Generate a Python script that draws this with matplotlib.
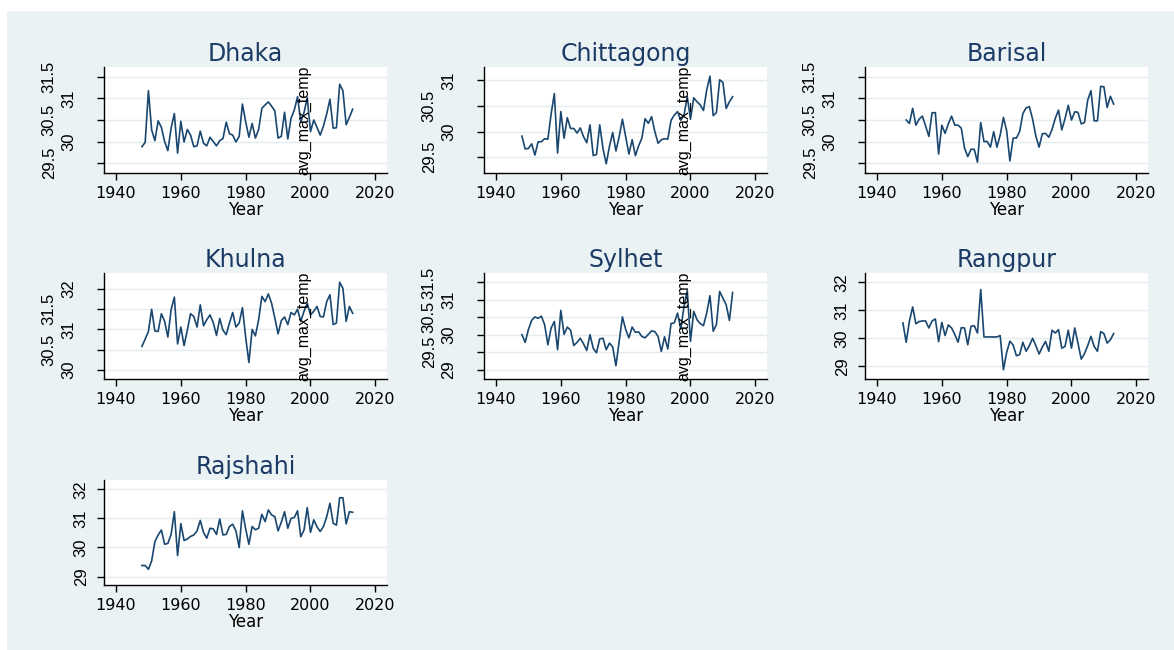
import matplotlib
matplotlib.use("Agg")
import matplotlib.pyplot as plt
import matplotlib.transforms as mtransforms
from matplotlib.patches import Rectangle

# average maximum temperature by station
years = list(range(1948, 2014))
years_barisal = list(range(1949, 2014))

dhaka = [
    29.88, 29.98, 31.18, 30.27, 30.02, 30.48, 30.33, 30.00, 29.79, 30.31,
    30.65, 29.73, 30.47, 29.99, 30.28, 30.15, 29.88, 29.90, 30.24, 29.96,
    29.90, 30.10, 30.00, 29.90, 30.02, 30.07, 30.45, 30.18, 30.15, 29.99,
    30.12, 30.87, 30.46, 30.10, 30.42, 30.08, 30.28, 30.77, 30.85, 30.92,
    30.82, 30.71, 30.08, 30.12, 30.68, 30.06, 30.54, 30.73, 31.04, 30.46,
    30.67, 31.02, 30.23, 30.50, 30.33, 30.15, 30.36, 30.64, 30.98, 30.31,
    30.32, 31.33, 31.18, 30.39, 30.56, 30.75,
]
chittagong = [
    29.91, 29.66, 29.67, 29.76, 29.54, 29.80, 29.80, 29.86, 29.85, 30.34,
    30.74, 29.58, 30.39, 29.87, 30.27, 30.06, 30.06, 29.97, 30.07, 29.90,
    29.78, 30.13, 29.53, 29.55, 30.13, 29.67, 29.37, 29.71, 29.98, 29.62,
    29.90, 30.24, 29.90, 29.56, 29.84, 29.53, 29.72, 29.87, 30.25, 30.16,
    30.29, 30.00, 29.77, 29.84, 29.86, 29.85, 30.22, 30.32, 30.39, 30.22,
    30.32, 30.68, 30.24, 30.66, 30.58, 30.52, 30.41, 30.81, 31.08, 30.31,
    30.37, 31.01, 30.96, 30.45, 30.58, 30.68,
]
barisal = [
    30.50, 30.42, 30.77, 30.38, 30.52, 30.59, 30.36, 30.12, 30.67, 30.67,
    29.71, 30.38, 30.19, 30.41, 30.59, 30.38, 30.38, 30.31, 29.85, 29.65,
    29.82, 29.82, 29.52, 30.44, 30.00, 30.00, 29.87, 30.23, 29.87, 30.15,
    30.56, 30.25, 29.55, 30.08, 30.08, 30.23, 30.65, 30.78, 30.81, 30.52,
    30.13, 29.87, 30.18, 30.19, 30.10, 30.28, 30.54, 30.73, 30.27, 30.53,
    30.84, 30.50, 30.69, 30.68, 30.41, 30.44, 30.96, 31.18, 30.48, 30.48,
    31.28, 31.27, 30.79, 31.05, 30.87,
]
khulna = [
    30.58, 30.76, 30.95, 31.50, 30.96, 30.95, 31.39, 31.20, 30.81, 31.49,
    31.80, 30.64, 31.06, 30.60, 30.98, 31.39, 31.32, 31.06, 31.61, 31.09,
    31.24, 31.36, 31.17, 30.85, 31.27, 30.98, 30.87, 31.16, 31.42, 31.06,
    31.16, 31.54, 30.81, 30.18, 31.00, 30.84, 31.24, 31.82, 31.69, 31.88,
    31.65, 31.28, 30.89, 31.22, 31.31, 31.12, 31.42, 31.36, 31.50, 31.20,
    31.45, 31.65, 31.36, 31.45, 31.57, 31.32, 31.31, 31.69, 31.86, 31.12,
    31.16, 32.17, 32.02, 31.20, 31.57, 31.40,
]
sylhet = [
    30.00, 29.78, 30.15, 30.41, 30.51, 30.47, 30.53, 30.29, 29.71, 30.19,
    30.38, 29.57, 30.70, 30.01, 30.22, 30.13, 29.69, 29.78, 29.90, 29.74,
    29.55, 30.00, 29.61, 29.48, 29.88, 29.90, 29.57, 29.76, 29.65, 29.11,
    29.81, 30.51, 30.15, 29.91, 30.22, 30.07, 30.08, 29.95, 29.91, 30.01,
    30.11, 30.09, 29.95, 29.52, 29.94, 29.59, 30.32, 30.34, 30.62, 30.16,
    30.81, 31.27, 29.81, 30.67, 30.43, 30.32, 30.26, 30.62, 31.12, 30.10,
    30.29, 31.24, 31.05, 30.86, 30.41, 31.21,
]
rangpur = [
    30.55, 29.86, 30.61, 31.12, 30.52, 30.60, 30.62, 30.62, 30.37, 30.62,
    30.69, 29.88, 30.57, 30.10, 30.48, 30.37, 30.14, 29.86, 30.38, 30.37,
    29.77, 30.43, 30.45, 30.19, 31.74, 30.05, 30.05, 30.05, 30.05, 30.05,
    30.10, 28.88, 29.50, 29.90, 29.76, 29.38, 29.42, 29.86, 29.54, 29.74,
    30.00, 29.74, 29.44, 29.69, 29.89, 29.54, 30.29, 30.19, 30.31, 29.65,
    29.71, 30.29, 29.65, 30.37, 29.83, 29.26, 29.45, 29.74, 30.07, 29.71,
    29.54, 30.24, 30.17, 29.83, 29.95, 30.17,
]
rajshahi = [
    29.38, 29.38, 29.25, 29.54, 30.20, 30.43, 30.60, 30.11, 30.14, 30.45,
    31.23, 29.72, 30.82, 30.24, 30.29, 30.38, 30.43, 30.57, 30.93, 30.52,
    30.32, 30.66, 30.64, 30.45, 30.98, 30.43, 30.45, 30.72, 30.80, 30.57,
    30.00, 31.26, 30.64, 30.11, 30.72, 30.61, 30.66, 31.14, 30.89, 31.29,
    31.12, 31.06, 30.57, 30.87, 31.23, 30.66, 31.00, 31.03, 31.26, 30.37,
    30.60, 31.37, 30.52, 30.95, 30.71, 30.55, 30.72, 31.06, 31.52, 30.83,
    30.77, 31.71, 31.71, 30.81, 31.23, 31.21,
]

stations = ["Dhaka", "Chittagong", "Barisal", "Khulna", "Sylhet", "Rangpur", "Rajshahi"]
station_years = [years, years, years_barisal, years, years, years, years]
station_vals = [dhaka, chittagong, barisal, khulna, sylhet, rangpur, rajshahi]

x_ticks = [1940, 1960, 1980, 2000, 2020]
y_ticks = [
    [29.5, 30, 30.5, 31, 31.5],
    [29.5, 30, 30.5, 31],
    [29.5, 30, 30.5, 31, 31.5],
    [30, 30.5, 31, 31.5, 32],
    [29, 29.5, 30, 30.5, 31, 31.5],
    [29, 30, 31, 32],
    [29, 30, 31, 32],
]
y_limits = [
    (29.27, 31.73), (29.19, 31.26), (29.27, 31.73),
    (29.77, 32.40), (28.73, 31.77), (28.55, 32.33), (28.71, 32.32),
]
# panels where the stray y title shows up in the original
stray_title = {"Dhaka", "Chittagong", "Khulna", "Sylhet"}

W, H = 1174, 650
LINE = "#1a476f"
TITLE = "#1c3a66"
GRID = "#e3ecef"
BG = "#eaf2f3"

fig = plt.figure(figsize=(W / 100, H / 100), dpi=100, facecolor="white")
fig.patches.append(Rectangle((7 / W, 0), 1 - 7 / W, 1 - 11 / H,
                             transform=fig.transFigure, facecolor=BG,
                             edgecolor="none", zorder=-10))

col_left = [104, 484, 865]
rows = [(67, 173), (273, 379), (480, 585)]
pw = 283

for i, name in enumerate(stations):
    r, c = divmod(i, 3)
    top, bot = rows[r]
    ax = fig.add_axes([col_left[c] / W, 1 - bot / H, pw / W, (bot - top) / H])
    ax.set_facecolor("white")
    ax.plot(station_years[i], station_vals[i], color=LINE, lw=1.2)

    ax.set_xlim(1936.3, 2023.6)
    ax.set_ylim(*y_limits[i])
    ax.set_xticks(x_ticks)
    ax.set_xticklabels([str(t) for t in x_ticks], fontsize=11.5,
                       family="DejaVu Sans")
    ax.set_yticks(y_ticks[i])
    ax.set_yticklabels([f"{t:g}" for t in y_ticks[i]], rotation=90,
                       va="center", fontsize=12, family="Liberation Sans")
    ax.grid(axis="y", color=GRID, lw=1)
    ax.set_axisbelow(True)

    for s in ("top", "right"):
        ax.spines[s].set_visible(False)
    for s in ("left", "bottom"):
        ax.spines[s].set_color("black")
        ax.spines[s].set_linewidth(1)

    ax.tick_params(direction="out", length=5, width=1, colors="black")
    ax.tick_params(axis="x", pad=4)
    staggered = any(t % 1 for t in y_ticks[i])
    for tk, t in zip(ax.yaxis.get_major_ticks(), y_ticks[i]):
        if staggered:
            tk.set_pad(29 if t % 1 else 15)
        else:
            tk.set_pad(6)

    ax.set_xlabel("Year", fontsize=12, family="DejaVu Sans", labelpad=0.5)
    ax.set_title(name, fontsize=17, color=TITLE, family="DejaVu Sans", pad=4)

    if name in stray_title:
        trans = mtransforms.blended_transform_factory(ax.transData, ax.transAxes)
        ax.text(1998, 0.5, "avg_max_temp", transform=trans, rotation=90,
                ha="center", va="center", fontsize=11.5,
                family="Liberation Sans", color="black")

fig.savefig("out.png", dpi=100, facecolor=fig.get_facecolor())
